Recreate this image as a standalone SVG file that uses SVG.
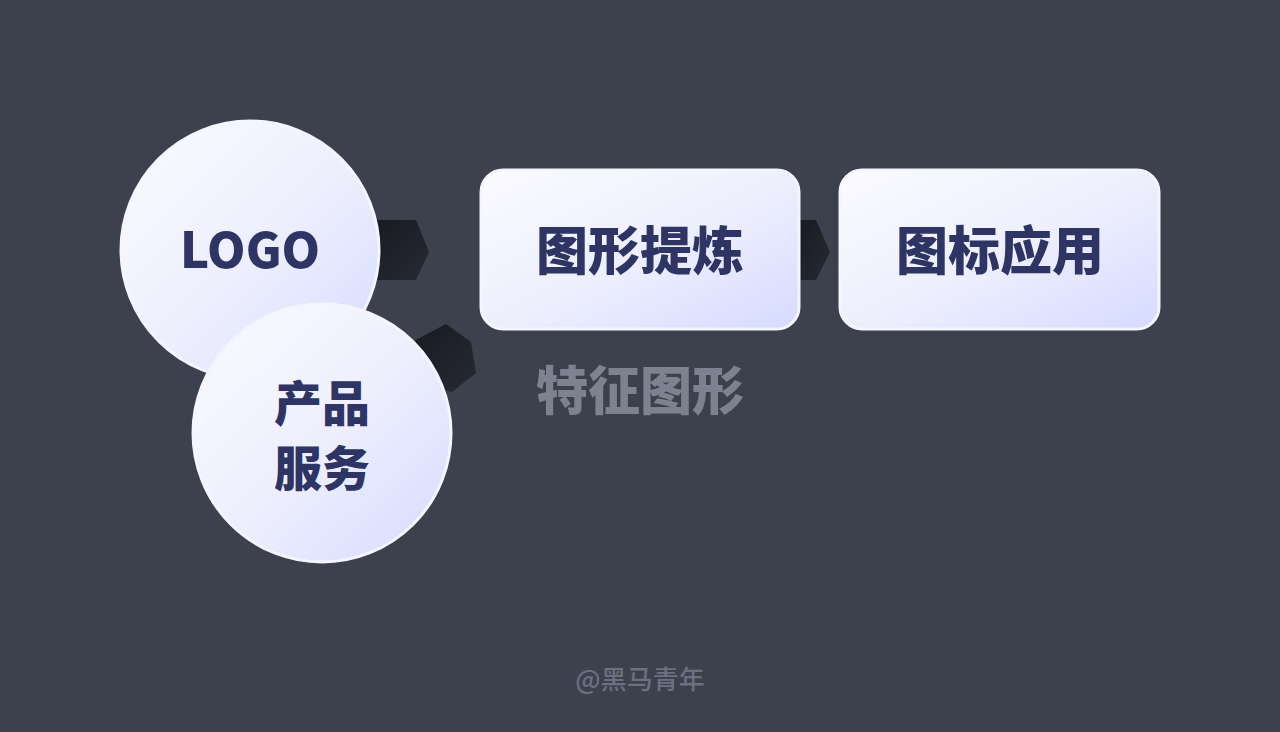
<svg xmlns="http://www.w3.org/2000/svg" width="1280" height="732" viewBox="0 0 1280 732">
<defs>
<linearGradient id="g" x1="0" y1="0" x2="1" y2="1">
<stop offset="0" stop-color="#fbfbff"/>
<stop offset="0.55" stop-color="#eceefd"/>
<stop offset="1" stop-color="#d6daff"/>
</linearGradient>
<linearGradient id="ga" x1="0" y1="0" x2="1" y2="1">
<stop offset="0" stop-color="#181a21"/>
<stop offset="1" stop-color="#262a33"/>
</linearGradient>
<style>
.node{fill:url(#g);stroke:#f4f5ff;stroke-width:3}
.arr{fill:url(#ga)}
.t{font-family:"Noto Sans CJK SC","Noto Sans",sans-serif;font-weight:900;fill:#2e3564;text-anchor:middle}
</style>
</defs>
<rect width="1280" height="732" fill="#3c414d"/>
<g id="connectors">
<polygon class="arr" points="370,220 416,220 429,252 416,280 370,280"/>
<polygon class="arr" points="410,343 446,324 471,342 476,373 452,392 425,385"/>
<polygon class="arr" points="796,220 816,220 830,252 816,280 796,280"/>
</g>
<g id="logo">
<circle class="node" cx="250" cy="250" r="129"/>
<text class="t" x="250" y="268" font-size="49">LOGO</text>
</g>
<g id="product">
<circle class="node" cx="322" cy="433" r="129"/>
<text class="t" x="322" y="421" font-size="48">产品</text>
<text class="t" x="322" y="486" font-size="48">服务</text>
</g>
<g id="extract">
<rect class="node" x="481" y="170" width="318" height="159" rx="22"/>
<text class="t" x="640" y="270" font-size="52">图形提炼</text>
</g>
<g id="apply">
<rect class="node" x="840" y="170" width="319" height="159" rx="22"/>
<text class="t" x="1000" y="270" font-size="52">图标应用</text>
</g>
<text x="640" y="410" font-size="52" font-family="Noto Sans CJK SC,sans-serif" font-weight="900" fill="#7c828f" text-anchor="middle">特征图形</text>
<text x="640" y="689" font-size="26" font-family="Noto Sans CJK SC,sans-serif" font-weight="500" fill="#6b7180" text-anchor="middle">@黑马青年</text>
</svg>
